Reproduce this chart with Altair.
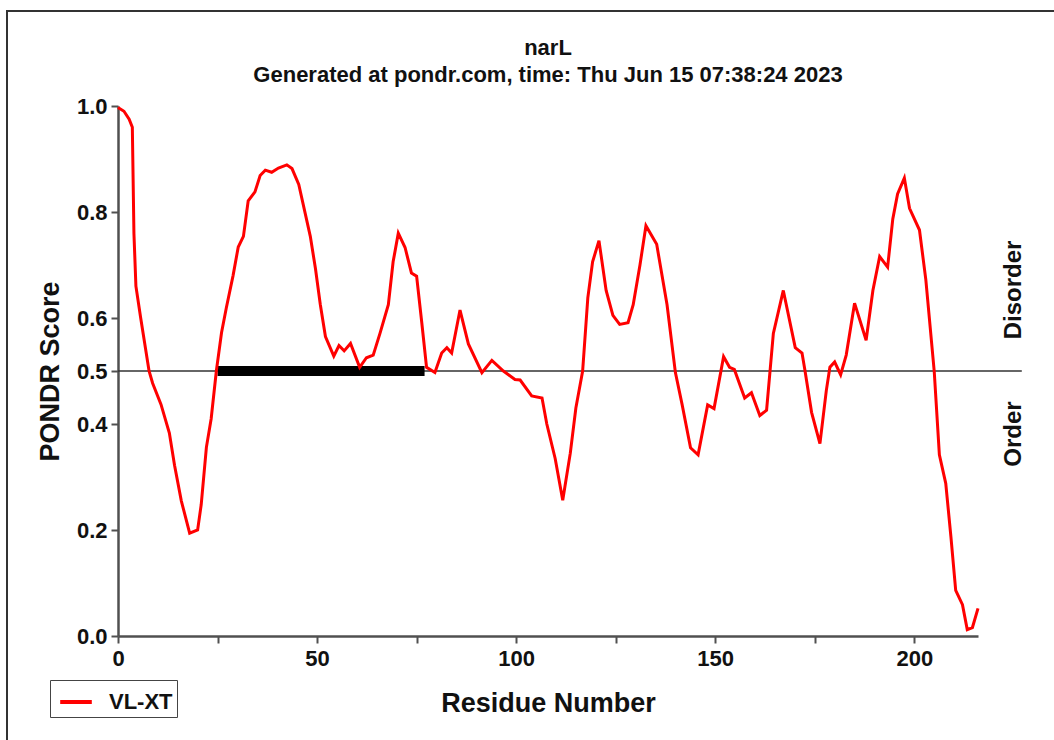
import altair as alt
import pandas as pd

residue = [0, 1.5, 2.8, 3.6, 4.0, 4.5, 5.7, 7.8, 8.7, 10.8, 12.9, 14.2, 15.9, 18.0, 20.0,
           20.9, 22.2, 23.4, 24.7, 26.0, 27.2, 28.9, 30.2, 31.5, 32.7, 34.4, 35.7, 37.0,
           38.6, 40.3, 42.4, 43.7, 45.4, 48.3, 49.6, 50.8, 52.1, 54.2, 55.5, 56.8, 58.4,
           60.7, 62.4, 64.1, 65.8, 67.9, 69.1, 70.4, 72.1, 73.7, 75.0, 76.3, 77.5, 79.6,
           81.3, 82.6, 83.8, 85.9, 88.0, 91.4, 93.9, 96.8, 99.7, 101.0, 103.9, 106.5,
           107.7, 109.8, 111.7, 113.6, 115.0, 116.7, 118.0, 119.2, 120.8, 122.6, 124.3,
           126.0, 128.1, 129.4, 131.1, 132.6, 135.3, 137.9, 140.0, 141.7, 143.8, 145.7,
           148.1, 149.7, 152.1, 153.6, 154.8, 157.4, 159.1, 161.2, 162.9, 164.6, 167.1,
           170.1, 171.8, 172.5, 174.2, 176.3, 177.9, 178.8, 180.0, 181.5, 182.9, 185.0,
           187.9, 189.6, 191.3, 193.3, 194.6, 195.8, 197.5, 198.8, 201.3, 202.9, 205.0,
           206.3, 207.9, 209.2, 210.4, 212.1, 213.3, 214.6, 216.0]
score = [0.997, 0.99, 0.975, 0.96, 0.76, 0.66, 0.60, 0.50, 0.477, 0.437, 0.383, 0.322,
         0.255, 0.194, 0.20, 0.248, 0.356, 0.41, 0.50, 0.572, 0.619, 0.68, 0.734, 0.754,
         0.821, 0.838, 0.869, 0.879, 0.875, 0.883, 0.889, 0.882, 0.852, 0.754, 0.693,
         0.626, 0.565, 0.528, 0.548, 0.538, 0.552, 0.507, 0.525, 0.530, 0.571, 0.625,
         0.706, 0.760, 0.733, 0.685, 0.679, 0.591, 0.507, 0.497, 0.534, 0.544, 0.534,
         0.615, 0.551, 0.497, 0.520, 0.500, 0.484, 0.483, 0.453, 0.449, 0.400, 0.335,
         0.256, 0.345, 0.43, 0.50, 0.638, 0.706, 0.746, 0.652, 0.605, 0.588, 0.591, 0.625,
         0.700, 0.774, 0.739, 0.625, 0.497, 0.436, 0.355, 0.342, 0.436, 0.429, 0.527,
         0.507, 0.503, 0.449, 0.459, 0.416, 0.426, 0.571, 0.652, 0.544, 0.534, 0.503,
         0.422, 0.363, 0.463, 0.507, 0.517, 0.493, 0.530, 0.628, 0.558, 0.652, 0.716,
         0.696, 0.787, 0.834, 0.864, 0.807, 0.766, 0.672, 0.500, 0.342, 0.288, 0.187,
         0.086, 0.059, 0.012, 0.016, 0.052]

series_name = "VL-XT"
title_text = "narL"
subtitle_text = "Generated at pondr.com, time: Thu Jun 15 07:38:24 2023"
threshold = 0.5
threshold_end = 227
disorder_segment = [25, 77]   # long disordered region marked by the black bar
x_ticks = [0, 25, 50, 75, 100, 125, 150, 175, 200]
y_ticks = [0.0, 0.2, 0.4, 0.5, 0.6, 0.8, 1.0]
side_labels = ["Disorder", "Order"]
side_label_y = [0.653, 0.381]
side_label_x = 225

FONT = "Liberation Sans"
AX = "#505050"

df = pd.DataFrame({"residue": residue, "score": score, "series": series_name})

xscale = alt.Scale(domain=[0, 216], nice=False, zero=False)
yscale = alt.Scale(domain=[0, 1], nice=False)

xaxis = alt.Axis(values=x_ticks, labelExpr="datum.value % 50 == 0 ? datum.label : ''",
                 title="Residue Number", titleFontSize=27, titleFont=FONT, titleFontWeight="bold",
                 titleColor="#111", titlePadding=21, labelFontSize=22, labelFont=FONT,
                 labelFontWeight="bold", labelColor="#111", labelPadding=5, tickSize=7,
                 tickWidth=2, tickColor=AX, domainColor=AX, domainWidth=2.5, grid=False,
                 labelFlush=False)
yaxis = alt.Axis(values=y_ticks, format=".1f", title="PONDR Score", titleFontSize=27,
                 titleFont=FONT, titleFontWeight="bold", titleColor="#111", titlePadding=12,
                 labelFontSize=22, labelFont=FONT, labelFontWeight="bold", labelColor="#111",
                 labelPadding=4, tickSize=7, tickWidth=2, tickColor=AX, domainColor=AX,
                 domainWidth=2.5, grid=False)

frame = alt.Chart(pd.DataFrame({"a": [0]})).mark_rect(
    fill=None, stroke="#333", strokeWidth=2
).encode(x=alt.value(-111), x2=alt.value(950), y=alt.value(-95), y2=alt.value(650))

line = alt.Chart(df).mark_line(strokeWidth=3, clip=False).encode(
    x=alt.X("residue:Q", scale=xscale, axis=xaxis),
    y=alt.Y("score:Q", scale=yscale, axis=yaxis),
    color=alt.Color("series:N", scale=alt.Scale(domain=[series_name], range=["#ff0000"]),
                    legend=alt.Legend(orient="none", legendX=-68, legendY=574, title=None,
                                      strokeColor="#444", fillColor="white", padding=4,
                                      symbolType="stroke", symbolSize=1000, symbolOffset=4,
                                      symbolStrokeWidth=4, labelFontSize=22, labelFont=FONT,
                                      labelFontWeight="bold", labelColor="#111",
                                      labelOffset=15)),
)

thr = alt.Chart(pd.DataFrame({"x": [0], "x2": [threshold_end], "y": [threshold]})).mark_rule(
    color="#333", strokeWidth=1.5, clip=False
).encode(x=alt.X("x:Q", scale=xscale), x2="x2:Q", y=alt.Y("y:Q", scale=yscale))

bar = alt.Chart(pd.DataFrame({"x": [disorder_segment[0]], "x2": [disorder_segment[1]],
                              "y": [threshold]})).mark_rule(
    color="black", strokeWidth=10, strokeCap="butt"
).encode(x=alt.X("x:Q", scale=xscale), x2="x2:Q", y=alt.Y("y:Q", scale=yscale))

side = alt.Chart(pd.DataFrame({"t": side_labels, "y": side_label_y,
                               "x": [side_label_x] * 2})).mark_text(
    angle=270, fontSize=24, font=FONT, fontWeight="bold", color="#111", clip=False
).encode(x=alt.X("x:Q", scale=xscale), y=alt.Y("y:Q", scale=yscale), text="t:N")

chart = alt.layer(frame, thr, bar, line, side).properties(
    width=860, height=530,
    title=alt.TitleParams(text=title_text, subtitle=subtitle_text,
                          font=FONT, fontSize=22, fontWeight="bold", color="#111",
                          subtitleFont=FONT, subtitleFontSize=22, subtitleFontWeight="bold",
                          subtitleColor="#111", anchor="middle", frame="group",
                          offset=-77, subtitlePadding=5),
    autosize=alt.AutoSizeParams(type="none"),
    padding={"left": 118, "top": 106, "right": 76, "bottom": 104},
    background="white",
).configure_view(stroke=None)

chart.save("out.html", embed_options={"renderer": "svg", "actions": False})
